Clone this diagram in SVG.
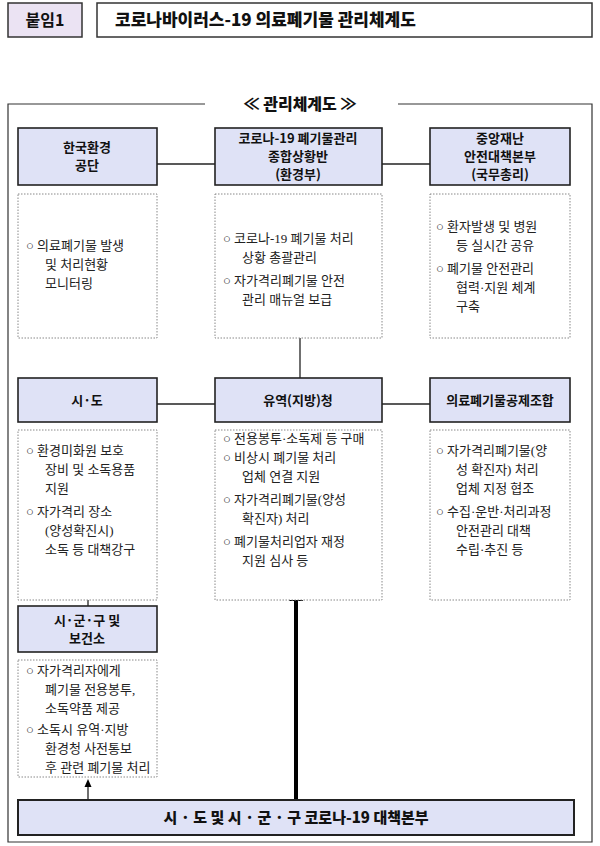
<svg xmlns="http://www.w3.org/2000/svg" width="600" height="846" viewBox="0 0 600 846">
<style>
.hd{fill:#dfe2f6;stroke:#222;stroke-width:1.6}
.dt{fill:#fff;stroke:#888;stroke-width:1;stroke-dasharray:1.5 1.5}
.ht{font-family:"Noto Sans CJK KR","Noto Sans",sans-serif;font-weight:bold;font-size:13px;text-anchor:middle;fill:#111}
.tx{font-family:"Liberation Serif","Noto Sans CJK KR",serif;font-size:13px;fill:#222}
.ln{stroke:#222;stroke-width:1.3;fill:none}
</style>
<rect width="600" height="846" fill="#fff"/>
<g id="header">
<rect x="8" y="3" width="74" height="34" fill="#ebe3f3" stroke="#333" stroke-width="1.5"/>
<text x="45" y="26" class="ht" style="font-size:16px">붙임1</text>
<rect x="97" y="3" width="495" height="34" fill="#fff" stroke="#333" stroke-width="1.5"/>
<text x="115" y="26" class="ht" style="font-size:17px;text-anchor:start;font-weight:900">코로나바이러스-19 의료폐기물 관리체계도</text>
</g>
<g id="frame">
<path d="M205,104H8V842H592V104H398" fill="none" stroke="#333" stroke-width="1.2"/>
<text x="300" y="110" class="ht" style="font-size:16px;font-weight:900">≪ 관리체계도 ≫</text>
</g>
<g id="connectors">
<line class="ln" x1="157" y1="164" x2="215" y2="164"/>
<line class="ln" x1="382" y1="164" x2="430" y2="164"/>
<line class="ln" x1="300" y1="338" x2="300" y2="378"/>
<line class="ln" x1="157" y1="404" x2="215" y2="404"/>
<line class="ln" x1="382" y1="404" x2="430" y2="404"/>
<line class="ln" x1="88" y1="600" x2="88" y2="606"/>
<line class="ln" x1="88" y1="800" x2="88" y2="786"/>
<polygon points="88,779 84.5,787 91.5,787" fill="#000"/>
<line x1="296" y1="800" x2="296" y2="598" stroke="#000" stroke-width="4"/>
<polygon points="296,585 289,601 303,601" fill="#000"/>
</g>
<g id="n1"><rect class="hd" x="18" y="128" width="139" height="57"/><text class="ht" x="87" y="152">한국환경</text><text class="ht" x="87" y="170">공단</text></g>
<g id="n2"><rect class="hd" x="215" y="128" width="167" height="57"/><text class="ht" x="298" y="143">코로나-19 폐기물관리</text><text class="ht" x="298" y="161">종합상황반</text><text class="ht" x="298" y="179">(환경부)</text></g>
<g id="n3"><rect class="hd" x="430" y="128" width="140" height="57"/><text class="ht" x="500" y="143">중앙재난</text><text class="ht" x="500" y="161">안전대책본부</text><text class="ht" x="500" y="179">(국무총리)</text></g>
<g id="d1"><rect class="dt" x="18" y="194" width="139" height="144"/><text class="tx" x="26" y="250">○  의료폐기물 발생</text><text class="tx" x="45" y="269">및 처리현황</text><text class="tx" x="45" y="288">모니터링</text></g>
<g id="d2"><rect class="dt" x="215" y="194" width="167" height="144"/><text class="tx" x="223" y="243">○  코로나-19 폐기물 처리</text><text class="tx" x="242" y="262">상황 총괄관리</text><text class="tx" x="223" y="285">○  자가격리폐기물 안전</text><text class="tx" x="242" y="304">관리 매뉴얼 보급</text></g>
<g id="d3"><rect class="dt" x="430" y="194" width="140" height="144"/><text class="tx" x="436" y="231">○  환자발생 및 병원</text><text class="tx" x="456" y="250">등 실시간 공유</text><text class="tx" x="436" y="273">○  폐기물 안전관리</text><text class="tx" x="456" y="292">협력·지원 체계</text><text class="tx" x="456" y="311">구축</text></g>
<g id="n4"><rect class="hd" x="18" y="378" width="139" height="44"/><text class="ht" x="87" y="405">시·도</text></g>
<g id="n5"><rect class="hd" x="215" y="378" width="167" height="44"/><text class="ht" x="298" y="405">유역(지방)청</text></g>
<g id="n6"><rect class="hd" x="430" y="378" width="140" height="44"/><text class="ht" x="500" y="405">의료폐기물공제조합</text></g>
<g id="d4"><rect class="dt" x="18" y="430" width="139" height="170"/><text class="tx" x="26" y="455">○  환경미화원 보호</text><text class="tx" x="45" y="474">장비 및 소독용품</text><text class="tx" x="45" y="493">지원</text><text class="tx" x="26" y="516">○  자가격리 장소</text><text class="tx" x="45" y="535">(양성확진시)</text><text class="tx" x="45" y="554">소독 등 대책강구</text></g>
<g id="d5"><rect class="dt" x="215" y="430" width="167" height="170"/><text class="tx" x="223" y="443">○  전용봉투·소독제 등 구매</text><text class="tx" x="223" y="462">○  비상시 폐기물 처리</text><text class="tx" x="242" y="481">업체 연결 지원</text><text class="tx" x="223" y="504">○  자가격리폐기물(양성</text><text class="tx" x="242" y="523">확진자) 처리</text><text class="tx" x="223" y="546">○  폐기물처리업자 재정</text><text class="tx" x="242" y="565">지원 심사 등</text></g>
<g id="d6"><rect class="dt" x="430" y="430" width="140" height="170"/><text class="tx" x="436" y="455">○  자가격리폐기물(양</text><text class="tx" x="456" y="474">성 확진자) 처리</text><text class="tx" x="456" y="493">업체 지정 협조</text><text class="tx" x="436" y="516">○  수집·운반·처리과정</text><text class="tx" x="456" y="535">안전관리 대책</text><text class="tx" x="456" y="554">수립·추진 등</text></g>
<g id="n7"><rect class="hd" x="18" y="606" width="139" height="46"/><text class="ht" x="87" y="625">시·군·구 및</text><text class="ht" x="87" y="643">보건소</text></g>
<g id="d7"><rect class="dt" x="18" y="660" width="139" height="117"/><text class="tx" x="26" y="675">○  자가격리자에게</text><text class="tx" x="45" y="694">폐기물 전용봉투,</text><text class="tx" x="45" y="713">소독약품 제공</text><text class="tx" x="26" y="734">○  소독시 유역·지방</text><text class="tx" x="45" y="753">환경청 사전통보</text><text class="tx" x="45" y="772">후 관련 폐기물 처리</text></g>
<g id="n8"><rect class="hd" x="18" y="800" width="556" height="35" style="stroke-width:2"/><text class="ht" x="296" y="823" style="font-size:15px;font-weight:900">시 · 도 및 시 · 군 · 구 코로나-19 대책본부</text></g>
</svg>
